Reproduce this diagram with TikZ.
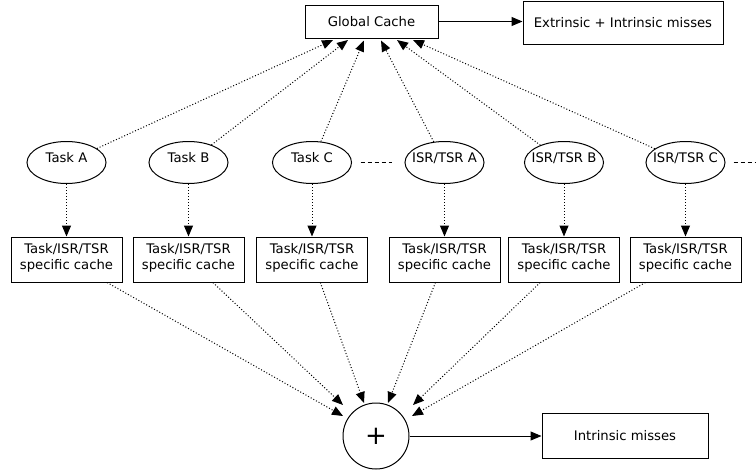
\documentclass[tikz,border=0pt]{standalone}
\usepackage{fontspec}
\setmainfont{DejaVu Sans}
\usetikzlibrary{shapes.geometric,arrows.meta}
\begin{document}
\begin{tikzpicture}[x=1pt,y=-1pt,
  every node/.style={font=\fontsize{13.2}{16}\selectfont, inner sep=0pt, line width=1pt},
  rectbox/.style={draw, rectangle, align=center},
  taskell/.style={draw, ellipse, minimum width=79pt, minimum height=42pt,
                  inner xsep=-12pt, text height=9.5pt, text depth=9.5pt},
  cachebox/.style={rectbox, minimum width=111pt, minimum height=45pt,
                   text depth=7pt},
  solidarrow/.style={line width=1pt, -{Triangle[length=11pt,width=9pt]}},
  dotarrow/.style={line width=1pt, dotted, -{Triangle[length=11pt,width=9pt]}},
  etcline/.style={line width=1pt, dash pattern=on 4.5pt off 2.5pt}]

\useasboundingbox (0,0) rectangle (756,472);

% top row
\node[rectbox, minimum width=133pt, minimum height=33pt] (gc) at (371.5,21.5) {Global Cache};
\node[rectbox, minimum width=200pt, minimum height=43pt] (ext) at (623,22.5) {Extrinsic + Intrinsic misses};

% tasks and interrupt routines
\node[taskell] (taskA) at (66.5,162.5) {Task A};
\node[taskell] (taskB) at (188.5,162.5) {Task B};
\node[taskell] (taskC) at (312,162.5) {Task C};
\node[taskell] (isrA) at (444.5,162.5) {ISR/TSR A};
\node[taskell] (isrB) at (564,162.5) {ISR/TSR B};
\node[taskell] (isrC) at (685.5,162.5) {ISR/TSR C};

% private caches
\node[cachebox] (cA) at (66.5,259.5) {Task/ISR/TSR\\specific cache};
\node[cachebox] (cB) at (188.5,259.5) {Task/ISR/TSR\\specific cache};
\node[cachebox] (cC) at (312,259.5) {Task/ISR/TSR\\specific cache};
\node[cachebox] (cD) at (444.5,259.5) {Task/ISR/TSR\\specific cache};
\node[cachebox] (cE) at (564,259.5) {Task/ISR/TSR\\specific cache};
\node[cachebox] (cF) at (685.5,259.5) {Task/ISR/TSR\\specific cache};

% sum and result
\node[draw, circle, minimum size=66pt, font=\fontsize{26}{26}\selectfont] (plus) at (376,436) {+};
\node[rectbox, minimum width=166pt, minimum height=45pt] (intr) at (625,435.5) {Intrinsic misses};

% arrow ends on the global cache
\coordinate (gA) at ([xshift=-38.5pt,yshift=-1.5pt]gc.south);
\coordinate (gB) at ([xshift=-23.5pt,yshift=-1.5pt]gc.south);
\coordinate (gC) at ([xshift=-7.5pt,yshift=-2pt]gc.south);
\coordinate (gD) at ([xshift=9.5pt,yshift=-2pt]gc.south);
\coordinate (gE) at ([xshift=25.5pt,yshift=-1.5pt]gc.south);
\coordinate (gF) at ([xshift=41.5pt,yshift=-1.5pt]gc.south);

% arrow ends around the sum
\coordinate (pA) at ([shift={(-33,-20)}]plus.center);
\coordinate (pB) at ([shift={(-33,-31)}]plus.center);
\coordinate (pC) at ([shift={(-12,-33)}]plus.center);
\coordinate (pD) at ([shift={(12,-33)}]plus.center);
\coordinate (pE) at ([shift={(37,-31)}]plus.center);
\coordinate (pF) at ([shift={(36,-20)}]plus.center);

% solid arrows
\draw[solidarrow] (gc.east) -- (gc.east -| ext.west);
\draw[solidarrow] (plus.east) -- (plus.east -| intr.west);

% tasks to global cache
\draw[dotarrow] (taskA) -- (gA);
\draw[dotarrow] (taskB) -- (gB);
\draw[dotarrow] (taskC) -- (gC);
\draw[dotarrow] (isrA) -- (gD);
\draw[dotarrow] (isrB) -- (gE);
\draw[dotarrow] (isrC) -- (gF);

% tasks to their caches
\draw[dotarrow] (taskA.south) -- (cA.north);
\draw[dotarrow] (taskB.south) -- (cB.north);
\draw[dotarrow] (taskC.south) -- (cC.north);
\draw[dotarrow] (isrA.south) -- (cD.north);
\draw[dotarrow] (isrB.south) -- (cE.north);
\draw[dotarrow] (isrC.south) -- (cF.north);

% caches to the sum
\draw[dotarrow] (cA) -- (pA);
\draw[dotarrow] (cB) -- (pB);
\draw[dotarrow] (cC) -- (pC);
\draw[dotarrow] (cD) -- (pD);
\draw[dotarrow] (cE) -- (pE);
\draw[dotarrow] (cF) -- (pF);

% continuation marks
\draw[etcline] ([xshift=8.5pt]taskC.east) -- ([xshift=-13pt]isrA.west);
\draw[etcline] ([xshift=8pt]isrC.east) -- ([xshift=32pt]isrC.east);
\end{tikzpicture}
\end{document}
